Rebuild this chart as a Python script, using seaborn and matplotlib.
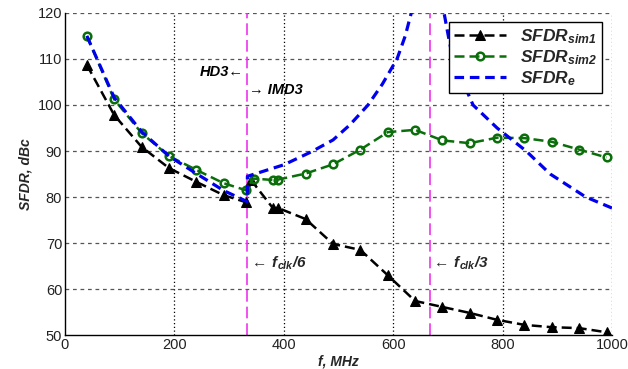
import numpy as np
import pandas as pd
import seaborn as sns
import matplotlib.pyplot as plt

# Simulated SFDR, 1st model (triangles)
f_sim1 = [40, 90, 140, 190, 240, 290, 330, 340, 380, 390, 440, 490, 540, 590,
          640, 690, 740, 790, 840, 890, 940, 990]
sfdr_sim1 = [108.7, 97.8, 90.9, 86.3, 83.3, 80.4, 78.9, 83.7, 77.6, 77.6, 75.2,
             69.8, 68.5, 63.0, 57.4, 56.1, 54.8, 53.3, 52.2, 51.7, 51.5, 50.6]

# Simulated SFDR, 2nd model (circles)
f_sim2 = [40, 90, 140, 190, 240, 290, 330, 345, 380, 390, 440, 490, 540, 590,
          640, 690, 740, 790, 840, 890, 940, 990]
sfdr_sim2 = [115.0, 101.2, 93.9, 88.9, 85.9, 83.0, 81.5, 84.0, 83.7, 83.8, 85.1,
             87.1, 90.3, 94.1, 94.6, 92.3, 91.7, 92.9, 92.8, 92.0, 90.3, 88.6]

# Estimated SFDR (goes off-scale near fclk/3)
f_est = [40, 90, 140, 190, 240, 290, 333, 333.5, 360, 400, 450, 490, 521, 554,
         580, 607, 622, 633, 645, 688, 693, 700, 709, 746, 790, 843, 887, 952, 1000]
sfdr_est = [115.0, 101.6, 94.2, 88.9, 85.1, 81.4, 79.0, 84.5, 85.5, 87.0, 89.8,
            92.4, 95.7, 100.0, 104.5, 110.0, 115.0, 120.0, 130.0, 130.0, 120.0,
            115.5, 110.0, 100.0, 95.0, 90.0, 85.0, 80.0, 77.6]

f_clk = 2000
x_ticks = [0, 200, 400, 600, 800, 1000]
y_ticks = [50, 60, 70, 80, 90, 100, 110, 120]

sns.set_style("white")
plt.rcParams['font.family'] = ['Liberation Sans', 'DejaVu Sans']
plt.rcParams['mathtext.fontset'] = 'custom'
plt.rcParams['mathtext.it'] = 'Liberation Sans:bold:italic'
plt.rcParams['mathtext.rm'] = 'Liberation Sans:bold:italic'
plt.rcParams['mathtext.bf'] = 'Liberation Sans:bold:italic'

fig = plt.figure(figsize=(6.28, 3.69), dpi=100)
ax = fig.add_axes([0.1035, 0.0921, 0.871, 0.8727])

# grid: dashed grey horizontal, dotted black vertical
for yv in y_ticks[1:]:
    ax.axhline(yv, color='#555555', lw=0.9, ls=(0, (3, 3)), zorder=0)
for xv in x_ticks[1:]:
    ax.axvline(xv, color='black', lw=0.9, ls=(0, (1, 2)), zorder=0)

# fclk/6 and fclk/3 markers
for xv in [f_clk / 6, f_clk / 3]:
    ax.axvline(xv, color='#ee33ee', lw=1.2, ls=(0, (7, 3)), zorder=1)

sns.lineplot(x=f_sim1, y=sfdr_sim1, ax=ax, sort=False, estimator=None,
             color='black', lw=1.8, ls=(0, (4, 2)), marker='^', markersize=7.5,
             markerfacecolor='black', markeredgecolor='black',
             label=r'$SFDR_{sim1}$', zorder=3)
sns.lineplot(x=f_sim2, y=sfdr_sim2, ax=ax, sort=False, estimator=None,
             color='#0a6e0a', lw=1.8, ls=(0, (4, 2)), marker='o', markersize=5.5,
             markerfacecolor='none', markeredgecolor='#0a6e0a', markeredgewidth=1.8,
             label=r'$SFDR_{sim2}$', zorder=3)
sns.lineplot(x=f_est, y=sfdr_est, ax=ax, sort=False, estimator=None,
             color='#0000ee', lw=2.3, ls=(0, (3, 1.8)),
             label=r'$SFDR_{e}$', zorder=4)

ax.set_xlim(0, 1000)
ax.set_ylim(50, 120)
ax.set_xticks(x_ticks)
ax.set_yticks(y_ticks)
ax.tick_params(direction='in', length=3, labelsize=10.5, colors='black', pad=2)
for lab in ax.get_xticklabels() + ax.get_yticklabels():
    lab.set_color('#222222')

for side in ['top', 'right']:
    ax.spines[side].set_visible(False)
for side in ['left', 'bottom']:
    ax.spines[side].set_color('black')
    ax.spines[side].set_linewidth(1.0)

ax.set_xlabel('f, MHz', fontsize=10, fontweight='bold', fontstyle='italic', labelpad=2)
ax.set_ylabel('SFDR, dBc', fontsize=10, fontweight='bold', fontstyle='italic', labelpad=4)

txt = dict(fontsize=10.5, fontweight='bold', fontstyle='italic', color='black')
ax.text(327, 107.2, 'HD3\u2190', ha='right', va='center', **txt)
ax.text(336, 103.3, '\u2192 IMD3', ha='left', va='center', **txt)
ax.text(336, 65.6, r'$\leftarrow\, f_{clk}/6$', ha='left', va='center', fontsize=11)
ax.text(669, 65.6, r'$\leftarrow\, f_{clk}/3$', ha='left', va='center', fontsize=11)

leg = ax.legend(loc='upper right', bbox_to_anchor=(0.998, 1.0), fontsize=12.5,
                frameon=True, fancybox=False, framealpha=1, edgecolor='black',
                handlelength=3.0, borderpad=0.3, labelspacing=0.15, handletextpad=0.8)
leg.get_frame().set_linewidth(1.0)

fig.savefig('out.png', dpi=100)
